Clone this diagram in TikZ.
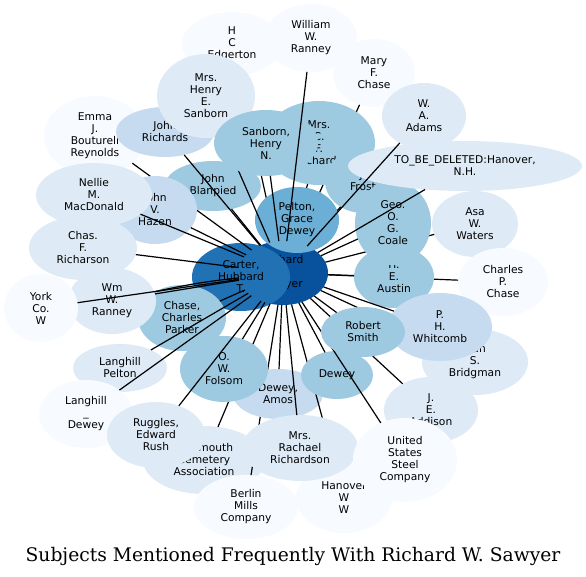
\documentclass[tikz,border=0pt]{standalone}
\usepackage{fontspec}
\setsansfont{DejaVu Sans}
\newfontfamily\titlefont{DejaVu Serif}
\usetikzlibrary{shapes.geometric}
\definecolor{toneA}{HTML}{08519C}
\definecolor{toneB}{HTML}{2171B5}
\definecolor{toneC}{HTML}{6BAED6}
\definecolor{toneD}{HTML}{9ECAE1}
\definecolor{toneE}{HTML}{C6DBEF}
\definecolor{toneF}{HTML}{DEEBF7}
\definecolor{toneG}{HTML}{F7FBFF}
\tikzset{
  subj/.style={ellipse, draw=none, inner sep=0pt, outer sep=0pt, align=center,
    font=\sffamily\fontsize{10.7}{12}\selectfont},
  ell/.style 2 args={minimum width=#1pt, minimum height=#2pt},
  link/.style={line width=1.2pt, black},
}

\begin{document}
\begin{tikzpicture}[x=1pt, y=-1pt]
		%%%%% START %%%%%
		\useasboundingbox (0, 0) rectangle (586, 577);
		
		\node[subj, fill=toneA, ell={90}{64}] (saw) at (283, 273) {Richard\\W.\\Sawyer};
		\node[subj, fill=toneB, ell={98}{68}] (car) at (241, 277) {Carter,\\Hubbard\\T.};
		
		\node[subj, fill=toneG, ell={100}{64}] (edg) at (232, 44) {H\\C\\Edgerton};
		\draw[link] (saw) -- (edg);
		\node[subj, fill=toneG, ell={82}{68}] (mar) at (374, 73) {Mary\\F.\\Chase};
		\draw[link] (saw) -- (mar);
		\node[subj, fill=toneD, ell={112}{84}] (cfr) at (319, 143) {Mrs.\\C.\\F.\\Richards};
		\draw[link] (saw) -- (cfr);
		\node[subj, fill=toneD, ell={76}{64}] (fro) at (363, 181) {J.\\Frost};
		\draw[link] (saw) -- (fro);
		\node[subj, fill=toneC, ell={84}{66}] (pel) at (297, 220) {Pelton,\\Grace\\Dewey};
		
		\node[subj, fill=toneF, ell={86}{66}] (asa) at (475, 224) {Asa\\W.\\Waters};
		\draw[link] (saw) -- (asa);
		\node[subj, fill=toneG, ell={90}{68}] (cpc) at (503, 282) {Charles\\P.\\Chase};
		\draw[link] (saw) -- (cpc);
		\node[subj, fill=toneD, ell={80}{62}] (aus) at (394, 277) {H.\\E.\\Austin};
		\draw[link] (saw) -- (aus);
		\node[subj, fill=toneD, ell={76}{84}] (coa) at (393, 223) {Geo.\\O.\\G.\\Coale};
		\draw[link] (saw) -- (coa);
		\node[subj, fill=toneF, ell={234}{50}] (tbd) at (465, 166) {TO\_BE\_DELETED:Hanover,\\N.H.};
		\draw[link] (saw) -- (tbd);
		\node[subj, fill=toneF, ell={84}{66}] (ada) at (424, 116) {W.\\A.\\Adams};
		\draw[link] (saw) -- (ada);
		
		\node[subj, fill=toneG, ell={102}{80}] (emm) at (95, 136) {Emma\\J.\\Boutureli\\Reynolds};
		\draw[link] (saw) -- (emm);
		\node[subj, fill=toneD, ell={96}{50}] (bla) at (213, 186) {John\\Blanpied};
		\draw[link] (saw) -- (bla);
		\node[subj, fill=toneE, ell={98}{50}] (ric) at (165, 132) {John\\Richards};
		\draw[link] (saw) -- (ric);
		\node[subj, fill=toneF, ell={98}{84}] (hes) at (206, 96) {Mrs.\\Henry\\E.\\Sanborn};
		\draw[link] (saw) -- (hes);
		\node[subj, fill=toneD, ell={104}{66}] (shn) at (266, 143) {Sanborn,\\Henry\\N.};
		\draw[link] (saw) -- (shn);
		\node[subj, fill=toneG, ell={92}{68}] (wwr) at (311, 38) {William\\W.\\Ranney};
		\draw[link] (saw) -- (wwr);
		
		\node[subj, fill=toneE, ell={84}{68}] (haz) at (155, 210) {John\\V.\\Hazen};
		\draw[link] (saw) -- (haz);
		\node[subj, fill=toneF, ell={116}{64}] (nel) at (94, 195) {Nellie\\M.\\MacDonald};
		\draw[link] (saw) -- (nel);
		\node[subj, fill=toneF, ell={108}{64}] (chr) at (83, 248) {Chas.\\F.\\Richarson};
		\draw[link] (saw) -- (chr);
		
		\node[subj, fill=toneD, ell={88}{66}] (ccp) at (182, 318) {Chase,\\Charles\\Parker};
		\draw[link] (saw) -- (ccp);
		\node[subj, fill=toneF, ell={88}{66}] (wmr) at (112, 301) {Wm\\W.\\Ranney};
		\draw[link] (saw) -- (wmr);
		\draw[link] (saw) to[bend right=3] (wmr);
		\node[subj, fill=toneG, ell={74}{68}] (yor) at (41, 308) {York\\Co.\\W};
		\draw[link] (saw) -- (yor);
		\node[subj, fill=toneF, ell={94}{48}] (lpe) at (120, 368) {Langhill\\Pelton};
		\draw[link] (saw) -- (lpe);
		\node[subj, fill=toneG, ell={94}{68}] (lde) at (86, 414) {Langhill\\\_\\Dewey};
		\draw[link] (saw) -- (lde);
		
		\node[subj, fill=toneF, ell={122}{68}] (dar) at (204, 460) {Dartmouth\\Cemetery\\Association};
		\draw[link] (saw) -- (dar);
		\node[subj, fill=toneG, ell={104}{64}] (ber) at (246, 507) {Berlin\\Mills\\Company};
		\draw[link] (saw) -- (ber);
		\node[subj, fill=toneE, ell={90}{50}] (dam) at (278, 394) {Dewey,\\Amos};
		\draw[link] (saw) -- (dam);
		\node[subj, fill=toneD, ell={88}{66}] (fol) at (224, 369) {O.\\W.\\Folsom};
		\draw[link] (saw) -- (fol);
		\node[subj, fill=toneF, ell={98}{66}] (rug) at (156, 435) {Ruggles,\\Edward\\Rush};
		\draw[link] (saw) -- (rug);
		
		\node[subj, fill=toneG, ell={96}{70}] (han) at (344, 498) {Hanover\\W\\W};
		\draw[link] (saw) -- (han);
		\node[subj, fill=toneF, ell={116}{66}] (rac) at (300, 448) {Mrs.\\Rachael\\Richardson};
		\draw[link] (saw) -- (rac);
		\node[subj, fill=toneD, ell={72}{48}] (dew) at (337, 375) {Dewey};
		\draw[link] (saw) -- (dew);
		\node[subj, fill=toneF, ell={94}{66}] (add) at (431, 410) {J.\\E.\\Addison};
		\draw[link] (saw) -- (add);
		\node[subj, fill=toneG, ell={104}{84}] (uss) at (405, 460) {United\\States\\Steel\\Company};
		\draw[link] (saw) -- (uss);
		
		\node[subj, fill=toneF, ell={106}{66}] (bri) at (475, 362) {Dan\\S.\\Bridgman};
		\draw[link] (saw) -- (bri);
		\node[subj, fill=toneE, ell={104}{68}] (whi) at (440, 327) {P.\\H.\\Whitcomb};
		\draw[link] (saw) -- (whi);
		\node[subj, fill=toneD, ell={84}{50}] (rsm) at (363, 332) {Robert\\Smith};
		\draw[link] (saw) -- (rsm);
		
		\node[font=\titlefont\fontsize{18.7}{22}\selectfont] (title) at (293, 556) {Subjects Mentioned Frequently With Richard W. Sawyer};
		%%%%% END %%%%%
	\end{tikzpicture}
\end{document}
